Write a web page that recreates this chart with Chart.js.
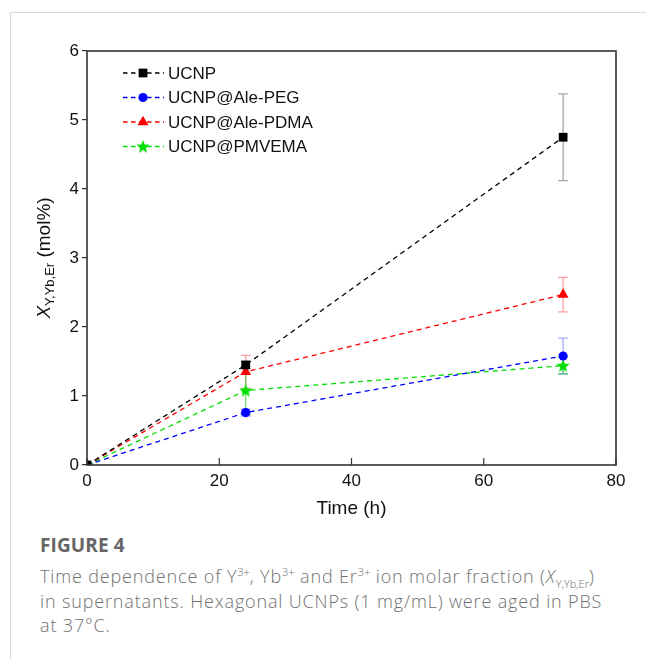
<!DOCTYPE html>
<html>
<head>
<meta charset="utf-8">
<script src="https://cdn.jsdelivr.net/npm/chart.js@4.4.1/dist/chart.umd.min.js"></script>
<style>
  html, body { margin: 0; padding: 0; background: #fff; }
  body { width: 646px; height: 659px; position: relative; overflow: hidden; }
  .frame { position: absolute; left: 10px; top: 12px; right: -2px; bottom: -2px;
           border-left: 1px solid #d9d9d9; border-top: 1px solid #d9d9d9; }
  #wrap { position: absolute; left: 0; top: 0; width: 646px; height: 530px; }
  .cap { position: absolute; left: 40px; top: 532px; color: #6b6b6b;
         font-family: "Open Sans", sans-serif; white-space: nowrap; }
  .cap .fig { font-weight: 700; font-size: 19px; letter-spacing: 0.1px; margin-bottom: 6px; color: #666; }
  .cap p { margin: 0; font-size: 18px; font-weight: 300; line-height: 24.5px; letter-spacing: 0.85px; color: #707070; }
  .cap sup, .cap sub { font-size: 11px; line-height: 0; letter-spacing: 0; }
</style>
</head>
<body>
<div class="frame"></div>
<div id="wrap"><canvas id="chart" width="646" height="530"></canvas></div>
<div class="cap">
  <div class="fig">FIGURE 4</div>
  <p>Time dependence of Y<sup>3+</sup>, Yb<sup>3+</sup> and Er<sup>3+</sup> ion molar fraction (<i>X</i><sub>Y,Yb,Er</sub>)<br>in supernatants. Hexagonal UCNPs (1 mg/mL) were aged in PBS<br>at 37°C.</p>
</div>
<script>
// data
const times = [0, 24, 72];
const ucnp = [0, 1.45, 4.75];
const ucnpErr = [0, 0.05, 0.63];
const peg = [0, 0.76, 1.58];
const pegErr = [0, 0.05, 0.26];
const pdma = [0, 1.35, 2.47];
const pdmaErr = [0, 0.24, 0.25];
const pmvema = [0, 1.08, 1.44];
const pmvemaErr = [0, 0.35, 0.12];
const seriesNames = ["UCNP", "UCNP@Ale-PEG", "UCNP@Ale-PDMA", "UCNP@PMVEMA"];
const xTicks = [0, 20, 40, 60, 80];

// 5 point star marker
function makeStar(color, size) {
  const c = document.createElement("canvas");
  c.width = size; c.height = size;
  const g = c.getContext("2d");
  const cx = size / 2, cy = size / 2 + 0.5, R = size / 2, r = R * 0.42;
  g.beginPath();
  for (let i = 0; i < 10; i++) {
    const rad = i % 2 === 0 ? R : r;
    const a = -Math.PI / 2 + i * Math.PI / 5;
    g.lineTo(cx + rad * Math.cos(a), cy + rad * Math.sin(a));
  }
  g.closePath();
  g.fillStyle = color;
  g.fill();
  return c;
}
const starImg = makeStar("#00e000", 14);

function pts(ys) {
  return times.map((t, i) => ({ x: t, y: ys[i] }));
}

const specs = [
  { ys: ucnp, err: ucnpErr, color: "#000000", errColor: "rgba(0,0,0,0.35)", style: "rect", radius: 6.2 },
  { ys: peg, err: pegErr, color: "#0000ff", errColor: "rgba(60,60,255,0.45)", style: "circle", radius: 4.6 },
  { ys: pdma, err: pdmaErr, color: "#ff0000", errColor: "rgba(255,40,40,0.45)", style: "triangle", radius: 6.3 },
  { ys: pmvema, err: pmvemaErr, color: "#00e000", errColor: "rgba(0,200,0,0.55)", style: starImg, radius: 7 },
];

const datasets = specs.map((s, i) => ({
  label: seriesNames[i],
  data: pts(s.ys),
  showLine: true,
  borderColor: s.color,
  backgroundColor: s.color,
  borderWidth: 1.3,
  borderDash: [5, 4],
  pointStyle: s.style,
  pointRadius: s.radius,
  pointBorderWidth: 0,
  pointBackgroundColor: s.color,
  clip: 0,
}));

// error bars, drawn under the series
const errorBars = {
  id: "errorBars",
  beforeDatasetsDraw(chart) {
    const { ctx, scales: { x, y }, chartArea } = chart;
    ctx.save();
    ctx.beginPath();
    ctx.rect(chartArea.left, chartArea.top, chartArea.right - chartArea.left, chartArea.bottom - chartArea.top);
    ctx.clip();
    specs.forEach((s) => {
      ctx.strokeStyle = s.errColor;
      ctx.lineWidth = 1.3;
      times.forEach((t, i) => {
        if (!s.err[i]) return;
        const px = x.getPixelForValue(t);
        const top = y.getPixelForValue(s.ys[i] + s.err[i]);
        const bot = y.getPixelForValue(s.ys[i] - s.err[i]);
        ctx.beginPath();
        ctx.moveTo(px, top); ctx.lineTo(px, bot);
        ctx.moveTo(px - 5, top); ctx.lineTo(px + 5, top);
        ctx.moveTo(px - 5, bot); ctx.lineTo(px + 5, bot);
        ctx.stroke();
      });
    });
    ctx.restore();
  },
};

// frame, inward x ticks, y title and legend
const decorations = {
  id: "decorations",
  afterDraw(chart) {
    const { ctx, chartArea: a, scales: { x } } = chart;
    ctx.save();
    ctx.strokeStyle = "#333";
    ctx.lineWidth = 1.6;
    ctx.strokeRect(a.left, a.top, a.right - a.left, a.bottom - a.top);
    ctx.lineWidth = 1.2;
    xTicks.forEach((t) => {
      const px = x.getPixelForValue(t);
      ctx.beginPath();
      ctx.moveTo(px, a.bottom);
      ctx.lineTo(px, a.bottom - 7);
      ctx.stroke();
    });

    // y axis title with subscript
    ctx.translate(45, 258);
    ctx.rotate(-Math.PI / 2);
    ctx.fillStyle = "#111";
    ctx.textBaseline = "middle";
    const main = "19px 'Liberation Sans', Arial, sans-serif";
    const small = "13px 'Liberation Sans', Arial, sans-serif";
    const ital = "italic 19px 'Liberation Sans', Arial, sans-serif";
    ctx.font = ital; const wX = ctx.measureText("X").width;
    ctx.font = small; const wS = ctx.measureText("Y,Yb,Er").width;
    ctx.font = main; const wM = ctx.measureText(" (mol%)").width;
    let sx = -(wX + wS + wM) / 2;
    ctx.font = ital; ctx.fillText("X", sx, 0); sx += wX;
    ctx.font = small; ctx.fillText("Y,Yb,Er", sx, 5); sx += wS;
    ctx.font = main; ctx.fillText(" (mol%)", sx, 0);
    ctx.restore();

    // legend
    ctx.save();
    ctx.font = "17px 'Liberation Sans', Arial, sans-serif";
    ctx.textBaseline = "middle";
    specs.forEach((s, i) => {
      const ly = 73 + i * 24.5;
      ctx.strokeStyle = s.color;
      ctx.lineWidth = 1.3;
      ctx.setLineDash([4.5, 3.5]);
      ctx.beginPath();
      ctx.moveTo(123, ly); ctx.lineTo(164, ly);
      ctx.stroke();
      ctx.setLineDash([]);
      ctx.fillStyle = s.color;
      Chart.helpers.drawPoint(ctx, { pointStyle: s.style, radius: s.radius, rotation: 0, borderWidth: 0 }, 143, ly);
      ctx.fillStyle = "#111";
      ctx.fillText(seriesNames[i], 168, ly + 1);
    });
    ctx.restore();
  },
};

const tickFont = { family: "'Liberation Sans', Arial, sans-serif", size: 17 };

new Chart(document.getElementById("chart"), {
  type: "scatter",
  data: { datasets },
  options: {
    responsive: false,
    animation: false,
    layout: { padding: { left: 0, right: 30, top: 51, bottom: 0 } },
    plugins: { legend: { display: false }, tooltip: { enabled: false } },
    scales: {
      x: {
        type: "linear",
        min: 0,
        max: 80,
        afterBuildTicks: (scale) => { scale.ticks = xTicks.map((v) => ({ value: v })); },
        afterFit: (scale) => { scale.height = 65; },
        ticks: { color: "#111", font: tickFont, padding: 6, maxRotation: 0 },
        grid: { display: true, drawOnChartArea: false, drawTicks: false },
        border: { display: false },
        title: {
          display: true,
          text: "Time (h)",
          color: "#111",
          font: { family: "'Liberation Sans', Arial, sans-serif", size: 19 },
          padding: { top: 0, bottom: 10 },
        },
      },
      y: {
        min: 0,
        max: 6,
        afterFit: (scale) => { scale.width = 87; },
        ticks: { stepSize: 1, color: "#111", font: tickFont, padding: 3 },
        grid: { drawOnChartArea: false, drawTicks: true, tickLength: 5, color: "#333", lineWidth: 1.2 },
        border: { display: false },
      },
    },
  },
  plugins: [errorBars, decorations],
});
</script>
</body>
</html>
